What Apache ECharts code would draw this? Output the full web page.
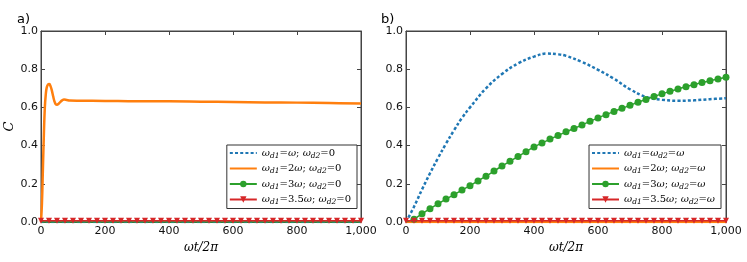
<!DOCTYPE html>
<html><head><meta charset="utf-8">
<script src="https://cdn.jsdelivr.net/npm/echarts@6/dist/echarts.min.js"></script>
<style>html,body{margin:0;padding:0;background:#fff}#c{width:747px;height:262px}</style>
</head><body><div id="c"></div>
<script>
// ---------- data ----------
const xTicks = [0, 200, 400, 600, 800, 1000];
const yTicks = [0.0, 0.2, 0.4, 0.6, 0.8, 1.0];
const labelsA = ['ωd1=ω; ωd2=0', 'ωd1=2ω; ωd2=0', 'ωd1=3ω; ωd2=0', 'ωd1=3.5ω; ωd2=0'];
const labelsB = ['ωd1=ωd2=ω', 'ωd1=2ω; ωd2=ω', 'ωd1=3ω; ωd2=ω', 'ωd1=3.5ω; ωd2=ω'];

// panel a
const aBlue = [[0, 0], [1000, 0]];
const aOrange = [[0,0],[3,0.1],[6,0.28],[9,0.46],[12,0.6],[15,0.67],[18,0.705],[22,0.72],[26,0.722],[30,0.71],[34,0.688],[38,0.658],[42,0.632],[46,0.617],[50,0.614],[55,0.619],[60,0.628],[66,0.637],[72,0.641],[80,0.639],[90,0.636],[120,0.635],[200,0.634],[300,0.632],[400,0.632],[500,0.630],[600,0.628],[700,0.626],[800,0.625],[900,0.623],[1000,0.62]];
const aGreen = [[0, 0], [1000, 0]];
const tMarks = [0,25,50,75,100,125,150,175,200,225,250,275,300,325,350,375,400,425,450,475,500,525,550,575,600,625,650,675,700,725,750,775,800,825,850,875,900,925,950,975,1000];
const aRed = [0.006,0.006,0.006,0.006,0.006,0.006,0.006,0.006,0.006,0.006,0.006,0.006,0.006,0.006,0.006,0.006,0.006,0.006,0.006,0.006,0.006,0.006,0.006,0.006,0.006,0.006,0.006,0.006,0.006,0.006,0.006,0.006,0.006,0.006,0.006,0.006,0.006,0.006,0.006,0.006,0.006];

// panel b
const bBlue = [[0,0],[25,0.08],[50,0.17],[75,0.255],[100,0.335],[125,0.41],[150,0.48],[175,0.545],[200,0.60],[250,0.70],[300,0.775],[350,0.83],[400,0.866],[440,0.882],[475,0.878],[500,0.87],[550,0.838],[600,0.797],[650,0.75],[700,0.695],[750,0.655],[800,0.64],[850,0.635],[900,0.637],[950,0.643],[1000,0.648]];
const bOrange = [[0, 0], [1000, 0]];
const bGreen = [0,0.015,0.043,0.07,0.095,0.12,0.143,0.167,0.19,0.215,0.24,0.267,0.293,0.318,0.343,0.368,0.393,0.414,0.434,0.453,0.472,0.49,0.508,0.527,0.545,0.562,0.579,0.595,0.611,0.627,0.642,0.657,0.671,0.684,0.696,0.708,0.719,0.73,0.74,0.749,0.758];
const bRed = [0.006,0.006,0.006,0.006,0.006,0.006,0.006,0.006,0.006,0.006,0.006,0.006,0.006,0.006,0.006,0.006,0.006,0.006,0.006,0.006,0.006,0.006,0.006,0.006,0.006,0.006,0.006,0.006,0.006,0.006,0.006,0.006,0.006,0.006,0.006,0.006,0.006,0.006,0.006,0.006,0.006];

// ---------- styling ----------
const C_BLUE = '#1f77b4', C_OR = '#ff7f0e', C_GR = '#2ca02c', C_RED = '#d62728';
const AX = '#444';
const pair = (ts, vs) => ts.map((t, i) => [t, vs[i]]);

function richName(name) {
  return name.match(/d1|d2|ω|[^ωd]+/g).map(p => {
    if (p === 'd1' || p === 'd2') return '{s|' + p + '}';
    if (p === 'ω') return '{i|ω}';
    return '{n|' + p + '}';
  }).join('');
}
const rich = {
  i: {fontFamily: 'DejaVu Serif', fontStyle: 'italic', fontSize: 10, lineHeight: 14, color: '#000'},
  n: {fontFamily: 'DejaVu Serif', fontSize: 10, lineHeight: 14, color: '#000'},
  s: {fontFamily: 'DejaVu Serif', fontStyle: 'italic', fontSize: 7.5, lineHeight: 10, verticalAlign: 'bottom', color: '#000'}
};

function xAxis(gi, bottom) {
  return {
    type: 'value', gridIndex: gi, min: 0, max: 1000, interval: 200,
    position: bottom ? 'bottom' : 'top',
    axisLine: {show: true, onZero: false, lineStyle: {color: AX, width: 1}},
    axisTick: {show: true, inside: true, length: 4, lineStyle: {color: AX}},
    axisLabel: {show: bottom, margin: 4, color: '#111', fontFamily: 'DejaVu Sans', fontSize: 11},
    splitLine: {show: false},
    name: bottom ? 'ωt/2π' : '', nameLocation: 'middle', nameGap: 15,
    nameTextStyle: {fontFamily: 'DejaVu Serif', fontStyle: 'italic', fontSize: 12, color: '#000'}
  };
}
function yAxis(gi, left, name) {
  return {
    type: 'value', gridIndex: gi, min: 0, max: 1, interval: 0.2,
    position: left ? 'left' : 'right',
    axisLine: {show: true, onZero: false, lineStyle: {color: AX, width: 1}},
    axisTick: {show: true, inside: true, length: 4, lineStyle: {color: AX}},
    axisLabel: {show: left, margin: 3, color: '#111', fontFamily: 'DejaVu Sans', fontSize: 11,
      formatter: v => v.toFixed(1)},
    splitLine: {show: false},
    name: left ? name : '', nameLocation: 'middle', nameGap: 24,
    nameTextStyle: {fontFamily: 'DejaVu Serif', fontStyle: 'italic', fontSize: 13, color: '#000'}
  };
}
function legend(names, right) {
  return {
    data: names.map((n, i) => (i < 2 ? {name: n, itemStyle: {opacity: 0}} : {name: n})),
    orient: 'vertical', right: right, top: 145,
    itemWidth: 27, itemHeight: 8, itemGap: 3.5,
    padding: [3, 6, 2, 2],
    borderColor: '#333', borderWidth: 1, backgroundColor: '#fff',
    formatter: richName,
    textStyle: {rich: rich}
  };
}
function blueS(name, x, y, data) {
  return {name, type: 'line', xAxisIndex: x, yAxisIndex: y, data, symbol: 'none', smooth: 0.4,
    lineStyle: {color: C_BLUE, width: 2.5, type: [3, 2.2]}, itemStyle: {color: C_BLUE}, z: 2};
}
function orangeS(name, x, y, data) {
  return {name, type: 'line', xAxisIndex: x, yAxisIndex: y, data, symbol: 'none', smooth: 0.4,
    lineStyle: {color: C_OR, width: 2.5}, itemStyle: {color: C_OR}, z: 3};
}
function greenS(name, x, y, data, show) {
  return {name, type: 'line', xAxisIndex: x, yAxisIndex: y,
    data: data.map((d, i) => (i === 0 ? {value: d, symbol: 'none'} : d)),
    symbol: 'circle', symbolSize: 7, showSymbol: show, smooth: 0.3,
    lineStyle: {color: C_GR, width: 1.5}, itemStyle: {color: C_GR}, z: 4};
}
function redS(name, x, y, data) {
  return {name, type: 'line', xAxisIndex: x, yAxisIndex: y, data,
    symbol: 'triangle', symbolRotate: 180, symbolSize: 6,
    lineStyle: {color: C_RED, width: 1.5}, itemStyle: {color: C_RED}, z: 5};
}

const chart = echarts.init(document.getElementById('c'), null, {renderer: 'canvas'});
chart.setOption({
  animation: false,
  backgroundColor: '#fff',
  title: [
    {text: 'a)', left: 12, top: 8, textStyle: {fontFamily: 'DejaVu Sans', fontSize: 13, fontWeight: 'normal', color: '#000'}},
    {text: 'b)', left: 376, top: 8, textStyle: {fontFamily: 'DejaVu Sans', fontSize: 13, fontWeight: 'normal', color: '#000'}}
  ],
  grid: [
    {left: 41, right: 386, top: 31, bottom: 40, show: true, borderColor: AX, backgroundColor: '#fff'},
    {left: 406, right: 21, top: 31, bottom: 40, show: true, borderColor: AX, backgroundColor: '#fff'}
  ],
  xAxis: [xAxis(0, true), xAxis(0, false), xAxis(1, true), xAxis(1, false)],
  yAxis: [yAxis(0, true, 'C'), yAxis(0, false), yAxis(1, true, ''), yAxis(1, false)],
  legend: [legend(labelsA, 390), legend(labelsB, 26)],
  series: [
    blueS(labelsA[0], 0, 0, aBlue),
    orangeS(labelsA[1], 0, 0, aOrange),
    greenS(labelsA[2], 0, 0, aGreen, false),
    redS(labelsA[3], 0, 0, pair(tMarks, aRed)),
    blueS(labelsB[0], 2, 2, bBlue),
    orangeS(labelsB[1], 2, 2, bOrange),
    greenS(labelsB[2], 2, 2, pair(tMarks, bGreen), true),
    redS(labelsB[3], 2, 2, pair(tMarks, bRed))
  ]
});
</script></body></html>
